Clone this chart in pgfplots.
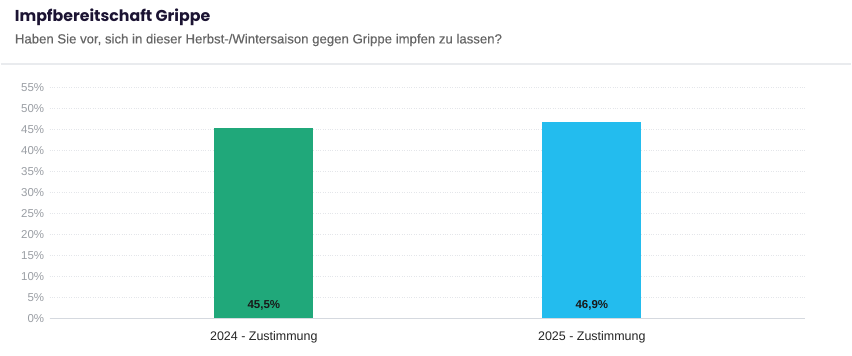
\documentclass[border=0pt]{standalone}
\usepackage{pgfplots}
\pgfplotsset{compat=1.18}
\usepackage{fontspec}
\setmainfont{Liberation Sans}
\newfontfamily\titlefont{Poppins}
\newfontfamily\subfont[FakeBold=0.35]{Liberation Sans}
\definecolor{barA}{HTML}{20A87A}
\definecolor{barB}{HTML}{23BCEE}
\definecolor{gridc}{HTML}{E4E6EA}
\definecolor{axisc}{HTML}{D5D9DF}
\definecolor{tickc}{HTML}{9A9EA4}
\definecolor{titlec}{HTML}{1C1433}
\definecolor{subc}{HTML}{666666}
\begin{document}
\begin{tikzpicture}[x=1pt,y=1pt]
\path[fill=white] (0,0) rectangle (852,356);
\node[anchor=base west, inner sep=0, text=titlec, font=\titlefont\bfseries\fontsize{15.8}{18}\selectfont] at (14,334) {Impfbereitschaft Grippe};
\node[anchor=base west, inner sep=0, text=subc, font=\subfont\fontsize{13.2}{15}\selectfont] at (14,312.5) {Haben Sie vor, sich in dieser Herbst-/Wintersaison gegen Grippe impfen zu lassen?};
\draw[line width=1.5pt, color=gridc!80] (0,292) -- (852,292);
\begin{axis}[
  at={(49pt,37pt)}, anchor=south west,
  scale only axis, width=757pt, height=231pt,
  xmin=-0.653, xmax=1.651, ymin=0, ymax=55,
  ybar, bar width=99pt, bar shift=0pt,
  xtick={0,1}, xticklabels={2024 - Zustimmung, 2025 - Zustimmung},
  ytick={0,5,...,55},
  yticklabel={\pgfmathprintnumber{\tick}\%},
  /pgf/number format/assume math mode=true,
  ymajorgrids, major grid style={gridc, dotted, line width=0.8pt},
  axis line style={draw=none},
  axis x line*=bottom,
  major tick length=0pt,
  tick style={draw=none},
  yticklabel style={text=tickc, font=\fontsize{11.5}{13}\selectfont, xshift=-2pt},
  xticklabel style={text=black!85, font=\fontsize{12.5}{14}\selectfont, anchor=base, yshift=-22pt},
  clip=false,
]
\addplot[fill=barA, draw=none] coordinates {(0,45.5)};
\addplot[fill=barB, draw=none] coordinates {(1,46.9)};
\draw[axisc, line width=1pt] (axis cs:-0.653,0) -- (axis cs:1.651,0);
\node[anchor=base, font=\fontsize{11.5}{13}\selectfont\bfseries, text=black!90] at (axis cs:0,0) [yshift=10pt] {45,5\%};
\node[anchor=base, font=\fontsize{11.5}{13}\selectfont\bfseries, text=black!90] at (axis cs:1,0) [yshift=10pt] {46,9\%};
\end{axis}
\end{tikzpicture}
\end{document}
